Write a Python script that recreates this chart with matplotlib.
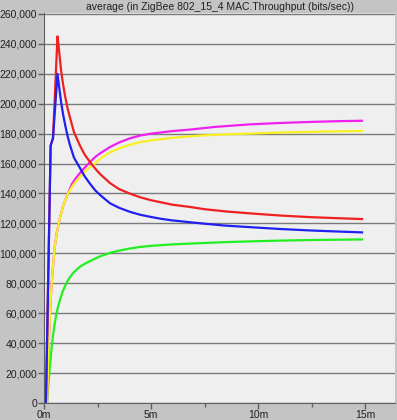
import matplotlib
matplotlib.use("Agg")
import matplotlib.pyplot as plt
from matplotlib.ticker import FuncFormatter, MultipleLocator

# time in minutes, throughput in bits/sec
t_green = [0.14, 0.2, 0.28, 0.35, 0.42, 0.5, 0.56, 0.65, 0.75, 0.86, 0.98, 1.1, 1.21, 1.4, 1.68, 1.9,
           2.15, 2.4, 2.62, 3.08, 3.5, 4.0, 4.49, 5.0, 6.0, 7.29, 8.5, 9.63, 11.0, 12.43, 13.7, 14.86]
v_green = [0, 12000, 25000, 36000, 45000, 53000, 58000, 64000, 69000, 74000, 78000, 81500, 84000, 87500,
           91000, 93000, 94800, 96500, 98000, 100300, 101800, 103200, 104300, 105000, 106000, 106800,
           107500, 108000, 108500, 108900, 109100, 109300]

t_yellow = [0.14, 0.18, 0.21, 0.26, 0.31, 0.4, 0.51, 0.6, 0.75, 0.9, 1.12, 1.4, 1.68, 2.0, 2.38, 2.7,
            3.08, 3.5, 4.0, 4.49, 5.0, 6.0, 7.29, 8.5, 9.63, 11.0, 12.43, 13.7, 14.86]
v_yellow = [0, 18000, 35000, 52000, 69000, 88000, 105000, 114000, 124000, 132000, 140000, 146500,
            151000, 156000, 160000, 164000, 167500, 170000, 172500, 174300, 175500, 177200, 178700,
            179500, 180000, 180700, 181200, 181500, 181800]

t_magenta = [0.14, 0.18, 0.21, 0.26, 0.31, 0.4, 0.51, 0.6, 0.75, 0.9, 1.12, 1.31, 1.5, 1.82, 2.15, 2.4,
             2.62, 3.08, 3.5, 4.0, 4.49, 5.0, 6.0, 6.82, 8.0, 9.63, 11.0, 12.43, 13.7, 14.86]
v_magenta = [0, 18000, 35000, 52000, 69000, 88000, 105000, 114000, 124000, 132000, 140000, 146500,
             150500, 156000, 161000, 164500, 166800, 171000, 174000, 176800, 178700, 180000, 181700,
             182700, 184500, 186200, 187100, 187800, 188300, 188600]

t_red = [0.09, 0.31, 0.42, 0.63, 0.7, 0.8, 0.89, 1.0, 1.1, 1.21, 1.4, 1.68, 1.9, 2.15, 2.4, 2.62, 3.08,
         3.5, 4.0, 4.49, 5.0, 5.5, 6.0, 6.82, 7.5, 8.5, 9.63, 11.0, 12.43, 13.7, 14.86]
v_red = [0, 172000, 177000, 245000, 236000, 222000, 213000, 204000, 197000, 191000, 181000, 172000,
         166000, 161000, 156500, 153000, 147000, 143000, 140000, 137500, 135500, 134000, 132500,
         131000, 129500, 128000, 126700, 125300, 124200, 123500, 122900]

t_blue = [0.09, 0.31, 0.42, 0.63, 0.7, 0.8, 0.89, 1.0, 1.1, 1.21, 1.4, 1.68, 1.9, 2.15, 2.4, 2.62, 3.08,
          3.5, 4.0, 4.49, 5.0, 5.5, 6.0, 6.82, 7.5, 8.5, 9.63, 11.0, 12.43, 13.7, 14.86]
v_blue = [0, 172000, 177000, 220000, 212000, 201000, 193000, 185000, 178500, 172500, 164000, 157000,
          151500, 146500, 142000, 139000, 133500, 130500, 127800, 125800, 124300, 123000, 122000,
          120800, 119800, 118500, 117500, 116300, 115300, 114600, 114000]

series = [
    (t_green, v_green, "#22ee22"),
    (t_magenta, v_magenta, "#f020f0"),
    (t_yellow, v_yellow, "#f8f020"),
    (t_red, v_red, "#f02020"),
    (t_blue, v_blue, "#2020f0"),
]

plt.rcParams['font.family'] = ['Liberation Sans', 'DejaVu Sans']

fig = plt.figure(figsize=(3.97, 4.2), dpi=100, facecolor="#c4c4c4")
ax = fig.add_axes([44 / 397, 17 / 420, 351 / 397, 390 / 420])
ax.set_facecolor("#efefef")

for t, v, c in series:
    ax.plot(t, v, color=c, lw=1.6, solid_joinstyle="round")

ax.set_xlim(0, 351 / 21.4)
ax.set_ylim(0, 260600)

ax.yaxis.set_major_locator(MultipleLocator(20000))
ax.yaxis.set_major_formatter(FuncFormatter(lambda v, p: f"{int(v):,}"))
ax.xaxis.set_major_locator(MultipleLocator(5))
ax.xaxis.set_minor_locator(MultipleLocator(2.5))
ax.xaxis.set_major_formatter(FuncFormatter(lambda v, p: f"{int(v)}m"))

ax.grid(axis="y", color="#7a7a7a", lw=1)
ax.set_axisbelow(True)
ax.tick_params(axis="both", which="both", direction="out", color="#606060",
               labelsize=7.5, labelcolor="#202020", length=4, width=1, pad=1)
ax.tick_params(axis="x", which="minor", length=3)

for s in ["top", "right"]:
    ax.spines[s].set_visible(False)
for s in ["left", "bottom"]:
    ax.spines[s].set_color("#606060")

ax.set_title("average (in ZigBee 802_15_4 MAC.Throughput (bits/sec))",
             fontsize=7.5, color="#202020", pad=2)

fig.savefig("out.png", dpi=100, facecolor=fig.get_facecolor())
